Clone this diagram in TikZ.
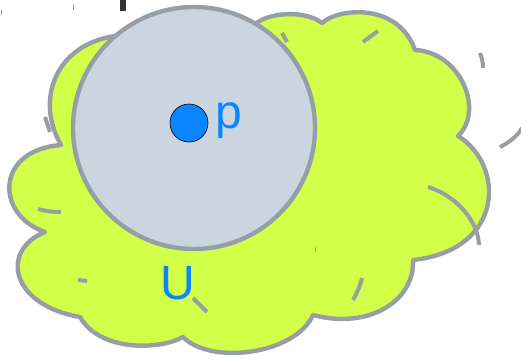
\documentclass[tikz,border=0pt]{standalone}
\usepackage{fontspec}
\setsansfont{Liberation Sans}
\definecolor{cloudfill}{HTML}{D2FF47}
\definecolor{edgegrey}{HTML}{979FA6}
\definecolor{ballfill}{HTML}{CBD5DF}
\definecolor{pointblue}{HTML}{0A84FF}
\begin{document}
\begin{tikzpicture}[x=1pt, y=-1pt,
    outline/.style={draw=edgegrey, line width=4.4pt, line join=round},
    stray/.style={draw=edgegrey, line width=4pt},
    dot/.style={circle, fill=pointblue, draw=black, line width=0.6pt,
      minimum size=38pt, inner sep=0pt},
    lbl/.style={text=pointblue, font=\sffamily\fontsize{48}{48}\selectfont,
      inner sep=0pt}]
  \useasboundingbox (0,0) rectangle (521,358);
  % Cut-off mark at the top
  \fill[black!80] (120,0) rectangle (126,11);
  \draw[edgegrey, line width=1.2pt] (1.5,10) -- (1.5,15);
  \draw[edgegrey, line width=1.5pt] (73.5,5) -- (73.5,10);
  % Cloud (the set U)
  \path[outline, fill=cloudfill]
    (255,24) .. controls (270,12) and (305,10) .. (322,23)
    .. controls (338,8) and (398,2) .. (415,50)
    .. controls (460,52) and (485,110) .. (458,136)
    .. controls (505,165) and (505,250) .. (413,260)
    .. controls (415,300) and (370,330) .. (313,315)
    .. controls (295,355) and (210,365) .. (183,337)
    .. controls (160,350) and (100,352) .. (80,317)
    .. controls (10,305) and (0,250) .. (45,232)
    .. controls (-5,215) and (-5,150) .. (61,145)
    .. controls (35,100) and (55,45) .. (115,36)
    .. controls (150,60) and (220,50) .. cycle;
  % Ball round p
  \path[outline, fill=ballfill] (194,128) circle[radius=121];
  % Loose pieces of arcs
  \draw[stray] (282,33) -- (287,42);
  \draw[stray] (363,42) -- (378,31);
  \draw[stray] (480,53) .. controls (482,58) and (483,63) .. (483,68);
  \draw[stray] (500,147) .. controls (508,143) and (517,137) .. (522,128);
  \draw[stray] (428,187) .. controls (455,195) and (478,220) .. (479,245);
  \draw[stray] (45,117) -- (50,132);
  \draw[stray] (38,209) .. controls (45,211) and (53,212) .. (61,212);
  \draw[stray] (78,280) -- (87,281);
  \draw[stray] (193,298) -- (207,312);
  \draw[stray] (362,278) .. controls (360,286) and (357,293) .. (353,300);
  \draw[edgegrey, line width=1pt] (315.5,247) -- (315.5,252);
  % Point and labels
  \node[dot] (p) at (189,123) {};
  \node[lbl, anchor=base west] (plabel) at (215,129) {p};
  \node[lbl, anchor=base] (ulabel) at (178,299) {U};
\end{tikzpicture}
\end{document}
